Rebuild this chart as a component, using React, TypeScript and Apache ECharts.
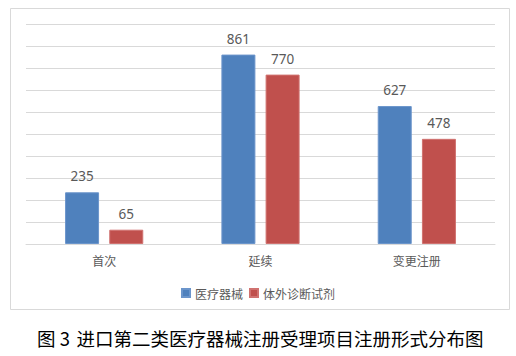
import React, { useEffect, useRef } from "react";
import * as echarts from "echarts";

const categories = ["首次", "延续", "变更注册"];
const deviceValues = [235, 861, 627];
const ivdValues = [65, 770, 478];
const seriesNames = ["医疗器械", "体外诊断试剂"];
const captionNumber = "图 3";
const captionText = "进口第二类医疗器械注册受理项目注册形式分布图";

export default function App() {
  const ref = useRef<HTMLDivElement>(null);
  useEffect(() => {
    if (!ref.current) return;
    const chart = echarts.init(ref.current, null, { renderer: "svg" });
    const labelStyle = {
      show: true,
      position: "top" as const,
      distance: 9,
      color: "#595959",
      fontSize: 13.5,
      fontFamily: "Noto Sans",
    };
    chart.setOption({
      animation: false,
      backgroundColor: "#ffffff",
      grid: { left: 26, right: 21, top: 24, bottom: 112 },
      legend: {
        data: seriesNames,
        left: "center",
        top: 282,
        itemWidth: 8,
        itemHeight: 8,
        itemGap: 6,
        icon: "rect",
        textStyle: { color: "#595959", fontSize: 12, fontFamily: "Noto Sans CJK SC" },
      },
      xAxis: {
        type: "category",
        data: categories,
        axisLine: { lineStyle: { color: "#d9d9d9", width: 1 } },
        axisTick: { show: false },
        axisLabel: { color: "#595959", fontSize: 12, margin: 10, fontFamily: "Noto Sans CJK SC" },
      },
      yAxis: {
        type: "value",
        min: 0,
        max: 1000,
        interval: 100,
        axisLabel: { show: false },
        axisLine: { show: false },
        axisTick: { show: false },
        splitLine: { lineStyle: { color: "#d9d9d9", width: 1 } },
      },
      series: [
        {
          name: seriesNames[0],
          type: "bar",
          data: deviceValues,
          barWidth: 34,
          barGap: "30%",
          itemStyle: { color: "#4f81bd", borderColor: "#6b95cb", borderWidth: 1 },
          label: labelStyle,
        },
        {
          name: seriesNames[1],
          type: "bar",
          data: ivdValues,
          barWidth: 34,
          barGap: "30%",
          itemStyle: { color: "#c0504d", borderColor: "#d07270", borderWidth: 1 },
          label: labelStyle,
        },
      ],
      graphic: [
        {
          type: "rect",
          shape: { x: 10.5, y: 8.5, width: 499, height: 301 },
          style: { fill: "none", stroke: "#d9d9d9", lineWidth: 1 },
          silent: true,
        },
        {
          type: "text",
          x: 37,
          y: 338,
          style: {
            text: captionNumber,
            fill: "#000000",
            fontSize: 18.5,
            fontFamily: "Noto Sans CJK SC",
            textAlign: "left",
            textVerticalAlign: "middle",
          },
        },
        {
          type: "text",
          x: 76.5,
          y: 338,
          style: {
            text: captionText,
            fill: "#000000",
            fontSize: 18.5,
            fontFamily: "Noto Sans CJK SC",
            textAlign: "left",
            textVerticalAlign: "middle",
          },
        },
      ],
    });
    return () => chart.dispose();
  }, []);
  return (
    <div
      ref={ref}
      style={{ position: "absolute", left: 0, top: 0, width: 516, height: 356 }}
    />
  );
}
